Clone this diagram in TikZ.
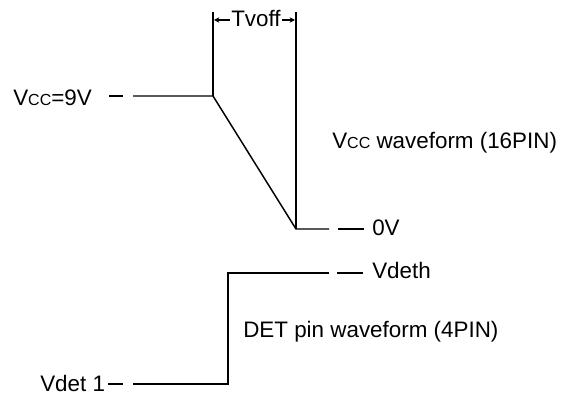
\documentclass[tikz,border=0pt]{standalone}
\usepackage{fontspec}
\setmainfont{Liberation Sans}
\usetikzlibrary{arrows.meta}
\newcommand{\smc}[1]{{\fontsize{12pt}{13pt}\selectfont #1}}
\tikzset{
  wave/.style={line width=1.1pt},
  lbl/.style={anchor=base west, inner sep=0pt, font=\fontsize{16.8pt}{19pt}\selectfont},
  tick/.style={line width=1.1pt},
  dim/.style={line width=0.8pt, -{Stealth[length=4pt,width=4pt]}}
}
\begin{document}
\begin{tikzpicture}[x=0.75pt,y=-0.75pt]
\useasboundingbox (0,0) rectangle (561,398);
% Vcc waveform
\coordinate (a0) at (133,96);
\coordinate (a1) at (213,96);
\coordinate (a1t) at (213,12);
\coordinate (a2) at (296,229);
\coordinate (a2t) at (296,12);
\coordinate (a3) at (329,229);
\draw[wave] (a0) -- (a1) -- (a2) -- (a3);
\draw[wave] (a1t) -- (a1);
\draw[wave] (a2t) -- (a2);
% DET waveform
\coordinate (b0) at (133,384);
\coordinate (b1) at (228,384);
\coordinate (b2) at (228,273);
\coordinate (b3) at (329,273);
\draw[wave] (b0) -- (b1) -- (b2) -- (b3);
% labels
\node[lbl] (vcc) at (13,106) {V\smc{CC}=9V};
\coordinate (d1s) at (109,96); \coordinate (d1e) at (123,96);
\draw[tick] (d1s) -- (d1e);
\node[lbl] (vdet) at (40,392) {Vdet 1};
\coordinate (d2s) at (108,384); \coordinate (d2e) at (123,384);
\draw[tick] (d2s) -- (d2e);
\node[lbl] (zero) at (372,236) {0V};
\coordinate (d3s) at (338,229); \coordinate (d3e) at (364,229);
\draw[tick] (d3s) -- (d3e);
\node[lbl] (vdeth) at (372,279) {Vdeth};
\coordinate (d4s) at (337,273); \coordinate (d4e) at (363,273);
\draw[tick] (d4s) -- (d4e);
\node[lbl] (wv1) at (332,149) {V\smc{CC} waveform (16PIN)};
\node[lbl] (wv2) at (243,338) {DET pin waveform (4PIN)};
% Tvoff
\node[lbl] (tv) at (231,27) {Tvoff};
\coordinate (tl) at (214,20);
\coordinate (tr) at (295,20);
\draw[dim] (tv.west |- tl) ++(-1,0) -- (tl);
\draw[dim] (tv.east |- tr) ++(1,0) -- (tr);
\end{tikzpicture}
\end{document}
